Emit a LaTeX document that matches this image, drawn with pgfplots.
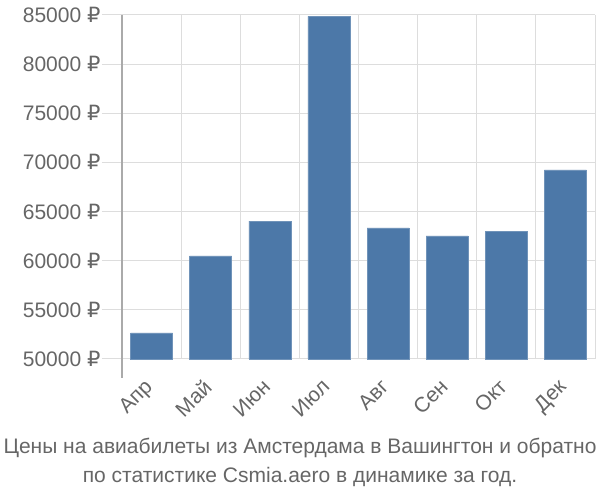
\documentclass[border=0pt]{standalone}
\usepackage{pgfplots}
\pgfplotsset{compat=1.18}
\usepackage{fontspec}
\setmainfont{Liberation Sans}
\newfontfamily\rub{DejaVu Sans}
\definecolor{barblue}{RGB}{76,120,168}
\definecolor{txtgray}{RGB}{102,102,102}
\definecolor{gridgray}{RGB}{221,221,221}
\definecolor{axgray}{RGB}{170,170,170}
\newcommand{\R}{{\rub ₽}}
\begin{document}
\begin{tikzpicture}
\useasboundingbox (0pt,0pt) rectangle (600pt,500pt);
\begin{axis}[
  at={(122pt,141pt)}, anchor=south west,
  scale only axis, width=473pt, height=344pt,
  xmin=-0.5, xmax=7.5, ymin=50000, ymax=85000,
  scaled y ticks=false,
  axis line style={draw=none},
  axis x line*=bottom, axis y line*=left,
  ytick={50000,55000,...,85000},
  yticklabels={50000 \R,55000 \R,60000 \R,65000 \R,70000 \R,75000 \R,80000 \R,85000 \R},
  ymajorgrids, grid style={gridgray, line width=1pt},
  ytick style={gridgray, line width=1pt},
  tick align=outside,
  major tick length=20pt,
  yticklabel style={font=\fontsize{21}{25}\selectfont, text=txtgray, xshift=2pt},
  xtick={0,...,7},
  xticklabels={Апр,Май,Июн,Июл,Авг,Сен,Окт,Дек},
  xtick style={draw=none},
  xticklabel style={font=\fontsize{21}{25}\selectfont, text=txtgray, rotate=45, anchor=north east, xshift=-1.75pt, yshift=10.25pt},
  extra x ticks={-0.5,0.5,1.5,2.5,3.5,4.5,5.5,6.5,7.5},
  extra x tick labels={},
  extra x tick style={xmajorgrids=true, major tick length=19pt, tick style={draw=gridgray, line width=1pt}},
  clip=false,
]
\addplot[ybar, bar width=0.71, fill=barblue, draw=barblue!80!white, line width=0.6pt, bar shift=0pt]
 coordinates {(0,52650) (1,60480) (2,64040) (3,84850) (4,63330) (5,62520) (6,63020) (7,69230)};
\draw[axgray, line width=1.2pt] (rel axis cs:0,1) -- (rel axis cs:0,0) -- ++(0pt,-19pt);
\end{axis}
\node[text=txtgray, font=\fontsize{21}{25}\selectfont, anchor=base] at (300pt,46pt) {Цены на авиабилеты из Амстердама в Вашингтон и обратно};
\node[text=txtgray, font=\fontsize{21}{25}\selectfont, anchor=base] at (300pt,17pt) {по статистике Csmia.aero в динамике за год.};
\end{tikzpicture}
\end{document}
